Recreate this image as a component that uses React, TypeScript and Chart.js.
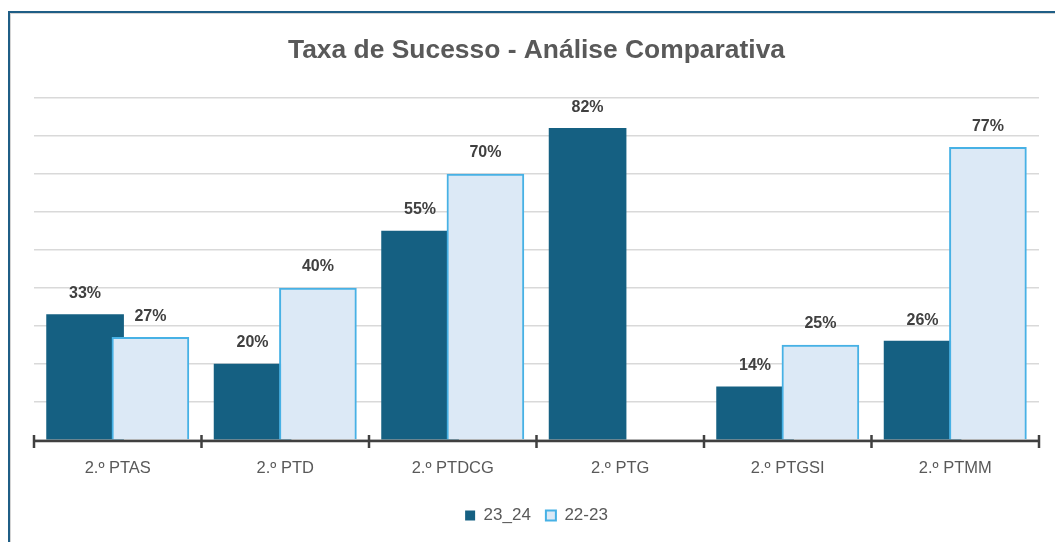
import { useEffect, useRef } from "react";
import { Chart, registerables } from "chart.js";

Chart.register(...registerables);

const categories = ["2.º PTAS", "2.º PTD", "2.º PTDCG", "2.º PTG", "2.º PTGSI", "2.º PTMM"];
const series2324 = [33, 20, 55, 82, 14, 26];
const series2223: (number | null)[] = [27, 40, 70, null, 25, 77];
const seriesNames = ["23_24", "22-23"];
const yMax = 90;
const yStep = 10;
const titleText = "Taxa de Sucesso - Análise Comparativa";

const DARK = "#156082";
const LIGHT_FILL = "#DCE9F6";
const LIGHT_BORDER = "#47B1E5";
const GROUP_SHIFT = 0.195;
const TITLE_WIDTH = 497;

const titlePlugin = {
  id: "narrowTitle",
  afterDraw(chart: any) {
    const { ctx, chartArea } = chart;
    ctx.save();
    ctx.font = 'bold 26px "Liberation Sans"';
    ctx.fillStyle = "#595959";
    ctx.textAlign = "center";
    ctx.textBaseline = "middle";
    const w = ctx.measureText(titleText).width;
    const cx = (chartArea.left + chartArea.right) / 2;
    ctx.translate(cx, 51);
    ctx.scale(TITLE_WIDTH / w, 1);
    ctx.fillText(titleText, 0, 0);
    ctx.restore();
  },
};

const axisPlugin = {
  id: "axisLine",
  afterDatasetsDraw(chart: any) {
    const { ctx, chartArea, scales } = chart;
    const y = scales.y.getPixelForValue(0) + 1;
    ctx.save();
    ctx.strokeStyle = "#404040";
    ctx.lineWidth = 2.5;
    ctx.beginPath();
    ctx.moveTo(chartArea.left, y);
    ctx.lineTo(chartArea.right, y);
    ctx.stroke();
    for (let k = 0; k <= categories.length; k++) {
      const x = scales.xb.getPixelForValue(k - 0.5);
      ctx.beginPath();
      ctx.moveTo(x, y - 6);
      ctx.lineTo(x, y + 7);
      ctx.stroke();
    }
    ctx.restore();
  },
};

const labelPlugin = {
  id: "valueLabels",
  afterDatasetsDraw(chart: any) {
    const ctx = chart.ctx;
    ctx.save();
    ctx.font = 'bold 16px "Liberation Sans"';
    ctx.fillStyle = "#404040";
    ctx.textAlign = "center";
    ctx.textBaseline = "middle";
    chart.data.datasets.forEach((ds: any, di: number) => {
      const meta = chart.getDatasetMeta(di);
      meta.data.forEach((el: any, i: number) => {
        const v = ds.data[i].y;
        if (v == null) return;
        ctx.fillText(`${v}%`, el.x, el.y - 21);
      });
    });
    ctx.restore();
  },
};

export default function App() {
  const ref = useRef<HTMLCanvasElement>(null);

  useEffect(() => {
    if (!ref.current) return;
    const chart = new Chart(ref.current, {
      type: "bar",
      data: {
        labels: categories,
        datasets: [
          {
            label: seriesNames[0],
            data: series2324.map((v, i) => ({ x: i - GROUP_SHIFT, y: v })),
            backgroundColor: DARK,
            borderColor: DARK,
            borderWidth: 0,
            xAxisID: "xb",
            order: 2,
          },
          {
            label: seriesNames[1],
            data: series2223.map((v, i) => ({ x: i + GROUP_SHIFT, y: v })),
            backgroundColor: LIGHT_FILL,
            borderColor: LIGHT_BORDER,
            borderWidth: 2,
            xAxisID: "xb",
            order: 1,
          },
        ] as any,
      },
      options: {
        animation: false,
        responsive: false,
        grouped: false,
        barThickness: 77,
        layout: { padding: { left: 34, right: 16, top: 98, bottom: 8 } },
        scales: {
          x: {
            type: "category",
            labels: categories,
            offset: true,
            grid: { display: false, drawTicks: false },
            border: { display: false },
            ticks: {
              padding: 19,
              color: "#595959",
              font: { family: "Liberation Sans", size: 16.5 },
            },
            afterFit: (s: any) => {
              s.height = 52;
            },
          },
          xb: {
            type: "linear",
            axis: "x",
            position: "bottom",
            display: false,
            offset: false,
            min: -0.5,
            max: categories.length - 0.5,
          },
          y: {
            min: 0,
            max: yMax,
            ticks: { display: false, stepSize: yStep },
            grid: { color: "#D9D9D9", lineWidth: 1.5, drawTicks: false },
            border: { display: false },
          },
        },
        plugins: {
          title: { display: false },
          legend: {
            position: "bottom",
            labels: {
              boxWidth: 10,
              boxHeight: 10,
              padding: 15,
              color: "#595959",
              font: { family: "Liberation Sans", size: 17 },
              sort: (a: any, b: any) => a.datasetIndex - b.datasetIndex,
            },
          },
          tooltip: { enabled: false },
        },
      } as any,
      plugins: [axisPlugin, labelPlugin, titlePlugin],
    });
    return () => chart.destroy();
  }, []);

  return (
    <div
      style={{
        position: "fixed",
        left: 0,
        top: 0,
        width: 1055,
        height: 542,
        overflow: "hidden",
        background: "#fff",
      }}
    >
      <div
        style={{
          position: "absolute",
          left: 8,
          top: 11,
          width: 1200,
          height: 700,
          borderLeft: "2px solid #1F5E86",
          borderTop: "2px solid #1F5E86",
          boxShadow: "inset 1px 1px 0 #d4d4d4",
        }}
      />
      <canvas
        ref={ref}
        width={1055}
        height={542}
        style={{ position: "absolute", left: 0, top: 0 }}
      />
    </div>
  );
}
